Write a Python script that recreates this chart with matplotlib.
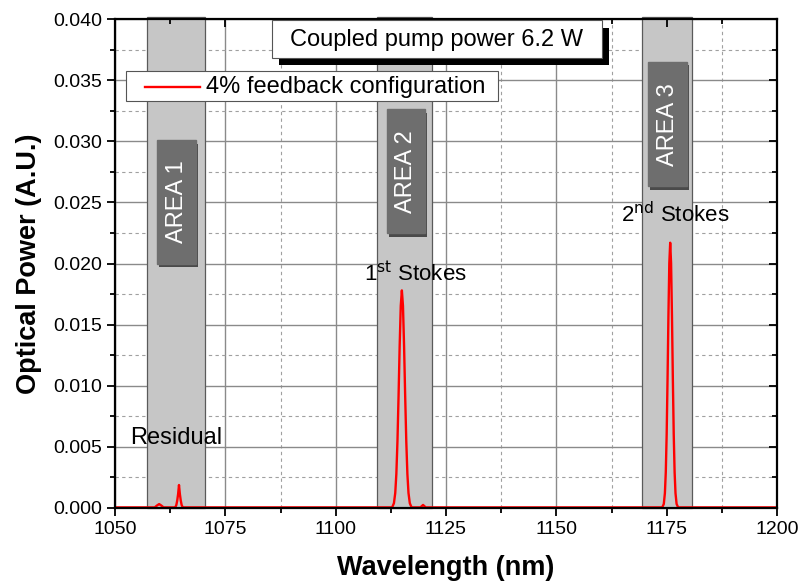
import numpy as np
import matplotlib.pyplot as plt
from matplotlib.patches import Rectangle
from matplotlib.lines import Line2D
from matplotlib.ticker import MultipleLocator

plt.rcParams['font.family'] = ['Liberation Sans', 'DejaVu Sans']

# spectrum samples (nm, A.U.)
wavelength = [1050, 1059.0, 1059.5, 1060.0, 1060.5, 1061.0,
              1063.4, 1063.7, 1063.9, 1064.1, 1064.3, 1064.5, 1064.7, 1064.9, 1065.1, 1065.3, 1065.6,
              1100, 1112.8, 1113.2, 1113.5, 1113.75, 1114.0, 1114.25, 1114.5, 1114.75, 1115.0,
              1115.25, 1115.5, 1115.75, 1116.0, 1116.25, 1116.5, 1116.8, 1117.2,
              1119.2, 1119.8, 1120.4, 1150,
              1174.0, 1174.35, 1174.6, 1174.8, 1175.0, 1175.2, 1175.4, 1175.6, 1175.8,
              1176.0, 1176.2, 1176.4, 1176.6, 1176.8, 1177.0, 1177.25, 1177.6, 1200]
power = [0.00005, 0.00005, 0.0002, 0.00032, 0.0002, 0.00005,
         0.00005, 0.00008, 0.00025, 0.00061, 0.00114, 0.00188, 0.00114, 0.00061, 0.00025, 0.00008, 0.00005,
         0.00005, 0.00005, 0.00039, 0.00123, 0.00279, 0.00545, 0.00915, 0.01324, 0.01654, 0.0178,
         0.01654, 0.01324, 0.00915, 0.00545, 0.00279, 0.00123, 0.00039, 0.00005,
         0.00005, 0.00025, 0.00005, 0.00005,
         0.00005, 0.00033, 0.00122, 0.00293, 0.00603, 0.01057, 0.01575, 0.02003, 0.0217,
         0.02003, 0.01575, 0.01057, 0.00603, 0.00293, 0.00122, 0.00033, 0.00005, 0.00005]

# shaded regions (nm)
areas = ['AREA 1', 'AREA 2', 'AREA 3']
area_lo = [1057.3, 1109.4, 1169.4]
area_hi = [1070.4, 1121.8, 1180.7]

W, H = 801, 582
fig = plt.figure(figsize=(W/100, H/100), dpi=100)
ax = fig.add_axes([115/W, 1-508/H, 662/W, 489/H])

def px(x, y):
    # pixel position (from top-left) to figure fraction
    return x / W, 1 - y / H

ax.set_xlim(1050, 1200)
ax.set_ylim(0, 0.040)
ax.xaxis.set_major_locator(MultipleLocator(25))
ax.xaxis.set_minor_locator(MultipleLocator(12.5))
ax.yaxis.set_major_locator(MultipleLocator(0.005))
ax.yaxis.set_minor_locator(MultipleLocator(0.0025))
ax.yaxis.set_major_formatter(plt.FormatStrFormatter('%.3f'))

ax.grid(which='major', color='#8a8a8a', lw=1.0, ls='-', zorder=0)
ax.grid(which='minor', color='#a0a0a0', lw=0.8, ls=(0, (3, 3)), zorder=0)
ax.set_axisbelow(True)

for s in ax.spines.values():
    s.set_linewidth(1.6)
    s.set_zorder(10)

ax.tick_params(which='both', labelsize=14, width=1.3, direction='out',
               top=False, right=False)
ax.tick_params(which='major', length=6)
ax.tick_params(which='minor', length=3.5)

# mirrored ticks pointing inward on top/right
ax2 = ax.twinx()
ax2.set_ylim(ax.get_ylim())
ax2.yaxis.set_major_locator(MultipleLocator(0.005))
ax2.yaxis.set_minor_locator(MultipleLocator(0.0025))
ax2.tick_params(axis='y', which='both', direction='in', labelright=False, width=1.3)
ax2.tick_params(which='major', length=6)
ax2.tick_params(which='minor', length=3.5)
ax3 = ax.twiny()
ax3.set_xlim(ax.get_xlim())
ax3.xaxis.set_major_locator(MultipleLocator(25))
ax3.xaxis.set_minor_locator(MultipleLocator(12.5))
ax3.tick_params(axis='x', which='both', direction='in', labeltop=False, width=1.3)
ax3.tick_params(which='major', length=6)
ax3.tick_params(which='minor', length=3.5)
for a in (ax2, ax3):
    for s in a.spines.values():
        s.set_visible(False)

# gray bands
for lo, hi in zip(area_lo, area_hi):
    ax.add_patch(Rectangle((lo, 0), hi - lo, 0.0402, facecolor='#c6c6c6',
                           edgecolor='#5a5a5a', lw=0.9, zorder=2, clip_on=False))

# area label boxes (x0, y0, w, h in data units)
boxes = [(1059.5, 0.0200, 8.9, 0.0101), (1111.6, 0.0225, 8.6, 0.0101),
         (1170.8, 0.0263, 8.8, 0.0102)]
for name, (bx, by, bw, bh) in zip(areas, boxes):
    ax.add_patch(Rectangle((bx + 0.5, by - 0.0003), bw, bh, facecolor='#4a4a4a',
                           edgecolor='none', zorder=3))
    ax.add_patch(Rectangle((bx, by), bw, bh, facecolor='#6e6e6e',
                           edgecolor='#6e6e6e', zorder=3))
    ax.text(bx + bw/2, by + bh/2, name, rotation=90, color='white', fontsize=17,
            ha='center', va='center', zorder=4)

ax.plot(wavelength, power, color='red', lw=1.7, zorder=5,
        label='4% feedback configuration')

ax.text(1063.8, 0.00524, 'Residual', fontsize=17, ha='center', va='baseline', zorder=6)
ax.text(1118.0, 0.01857, r'1$^{\mathrm{st}}$ Stokes', fontsize=16, ha='center',
        va='baseline', zorder=6)
ax.text(1177.0, 0.0234, r'2$^{\mathrm{nd}}$ Stokes', fontsize=16, ha='center',
        va='baseline', zorder=6)

# "Coupled pump power" box with black drop shadow
x0, y0 = px(279, 65)
x1, y1 = px(609, 28)
fig.patches.append(Rectangle((x0, y0), x1 - x0, y1 - y0, transform=fig.transFigure,
                             facecolor='black', edgecolor='none', zorder=7))
x0, y0 = px(272, 58)
x1, y1 = px(602, 20)
fig.patches.append(Rectangle((x0, y0), x1 - x0, y1 - y0, transform=fig.transFigure,
                             facecolor='white', edgecolor='#555555', lw=0.8, zorder=8))
fig.text(*px(437, 40), 'Coupled pump power 6.2 W', fontsize=17, ha='center',
         va='center', zorder=9)

# legend box
x0, y0 = px(126, 101)
x1, y1 = px(498, 71)
fig.patches.append(Rectangle((x0, y0), x1 - x0, y1 - y0, transform=fig.transFigure,
                             facecolor='white', edgecolor='#555555', lw=0.8, zorder=8))
lx0, ly = px(145, 87)
lx1, _ = px(200, 87)
fig.lines.append(Line2D([lx0, lx1], [ly, ly], transform=fig.transFigure,
                        color='red', lw=1.7, zorder=9))
fig.text(*px(206, 87), ax.get_lines()[0].get_label(), fontsize=17, ha='left',
         va='center', zorder=9)

ax.set_xlabel('Wavelength (nm)', fontsize=19.5, fontweight='bold', labelpad=12)
ax.set_ylabel('Optical Power (A.U.)', fontsize=19.5, fontweight='bold', labelpad=8)

fig.savefig('out.png', dpi=100)
